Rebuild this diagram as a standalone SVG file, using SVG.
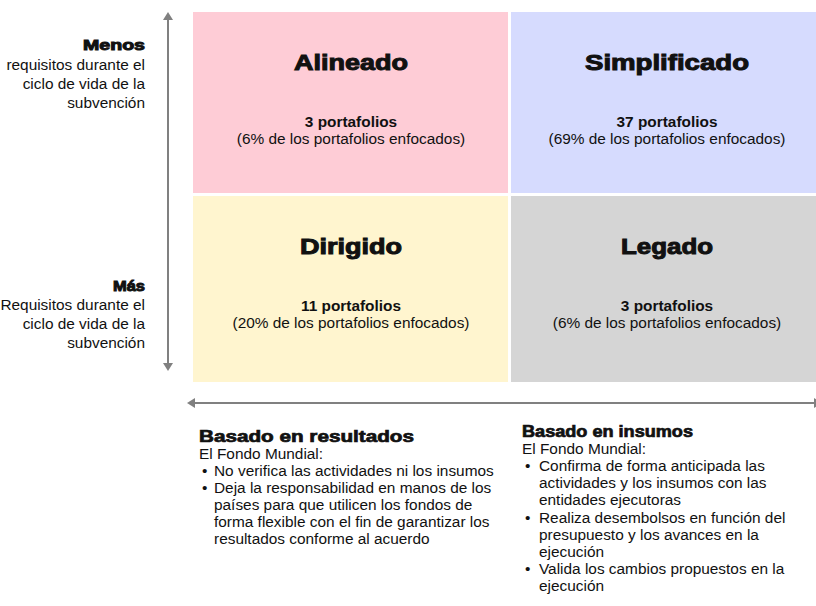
<svg xmlns="http://www.w3.org/2000/svg" width="816" height="606" viewBox="0 0 816 606">
<style>
.t{font-family:"Liberation Sans",Arial,sans-serif;fill:#111}
.b{font-size:15.4px}
.h{font-weight:bold;stroke:#111;stroke-width:1}
.q{font-size:22px}
.s{font-size:16px;stroke-width:0.7}
.m{text-anchor:middle}
.e{text-anchor:end}
.bo{font-weight:bold}
.ax{stroke:#808080;stroke-width:2;fill:none}
.ah{fill:#808080}
</style>
<rect width="816" height="606" fill="#fff"/>
<g id="alineado">
<rect x="193" y="12" width="315" height="181" fill="#FECCD6"/>
<text class="t h q m" x="351" y="70" textLength="114" lengthAdjust="spacingAndGlyphs">Alineado</text>
<text class="t b bo m" x="351" y="127">3 portafolios</text>
<text class="t b m" x="351" y="144">(6% de los portafolios enfocados)</text>
</g>
<g id="simplificado">
<rect x="511" y="12" width="310" height="181" fill="#D6DBFE"/>
<text class="t h q m" x="667" y="70" textLength="164" lengthAdjust="spacingAndGlyphs">Simplificado</text>
<text class="t b bo m" x="667" y="127">37 portafolios</text>
<text class="t b m" x="667" y="144">(69% de los portafolios enfocados)</text>
</g>
<g id="dirigido">
<rect x="193" y="196" width="315" height="186" fill="#FFF5CF"/>
<text class="t h q m" x="351" y="254" textLength="102" lengthAdjust="spacingAndGlyphs">Dirigido</text>
<text class="t b bo m" x="351" y="311">11 portafolios</text>
<text class="t b m" x="351" y="328">(20% de los portafolios enfocados)</text>
</g>
<g id="legado">
<rect x="511" y="196" width="310" height="186" fill="#D5D5D5"/>
<text class="t h q m" x="667" y="254" textLength="92" lengthAdjust="spacingAndGlyphs">Legado</text>
<text class="t b bo m" x="667" y="311">3 portafolios</text>
<text class="t b m" x="667" y="328">(6% de los portafolios enfocados)</text>
</g>
<g id="menos">
<text class="t h e" x="145" y="50" style="font-size:15px" textLength="62" lengthAdjust="spacingAndGlyphs">Menos</text>
<text class="t b e" x="145" y="70">requisitos durante el</text>
<text class="t b e" x="145" y="89">ciclo de vida de la</text>
<text class="t b e" x="145" y="108">subvención</text>
</g>
<g id="mas">
<text class="t h e" x="145" y="291" style="font-size:15px" textLength="32" lengthAdjust="spacingAndGlyphs">Más</text>
<text class="t b e" x="145" y="310">Requisitos durante el</text>
<text class="t b e" x="145" y="329">ciclo de vida de la</text>
<text class="t b e" x="145" y="348">subvención</text>
</g>
<g id="connectors">
<line class="ax" x1="168" y1="18" x2="168" y2="365"/>
<polygon class="ah" points="168,12 163,20 173,20"/>
<polygon class="ah" points="168,371 163,363 173,363"/>
<line class="ax" x1="193" y1="403" x2="816" y2="403"/>
<polygon class="ah" points="187,403 195,398 195,408"/>
<polygon class="ah" points="822,403 814,398 814,408"/>
</g>
<g id="resultados">
<text class="t h s" x="199" y="442" textLength="215" lengthAdjust="spacingAndGlyphs">Basado en resultados</text>
<text class="t b" x="199" y="459">El Fondo Mundial:</text>
<text class="t b" x="202" y="476">•</text><text class="t b" x="214" y="476">No verifica las actividades ni los insumos</text>
<text class="t b" x="202" y="493">•</text><text class="t b" x="214" y="493">Deja la responsabilidad en manos de los</text>
<text class="t b" x="214" y="510">países para que utilicen los fondos de</text>
<text class="t b" x="214" y="527">forma flexible con el fin de garantizar los</text>
<text class="t b" x="214" y="544">resultados conforme al acuerdo</text>
</g>
<g id="insumos">
<text class="t h s" x="522" y="437" textLength="171" lengthAdjust="spacingAndGlyphs">Basado en insumos</text>
<text class="t b" x="522" y="454">El Fondo Mundial:</text>
<text class="t b" x="525" y="471">•</text><text class="t b" x="539" y="471">Confirma de forma anticipada las</text>
<text class="t b" x="539" y="488">actividades y los insumos con las</text>
<text class="t b" x="539" y="505">entidades ejecutoras</text>
<text class="t b" x="525" y="523">•</text><text class="t b" x="539" y="523">Realiza desembolsos en función del</text>
<text class="t b" x="539" y="540">presupuesto y los avances en la</text>
<text class="t b" x="539" y="557">ejecución</text>
<text class="t b" x="525" y="574">•</text><text class="t b" x="539" y="574">Valida los cambios propuestos en la</text>
<text class="t b" x="539" y="591">ejecución</text>
</g>
</svg>
